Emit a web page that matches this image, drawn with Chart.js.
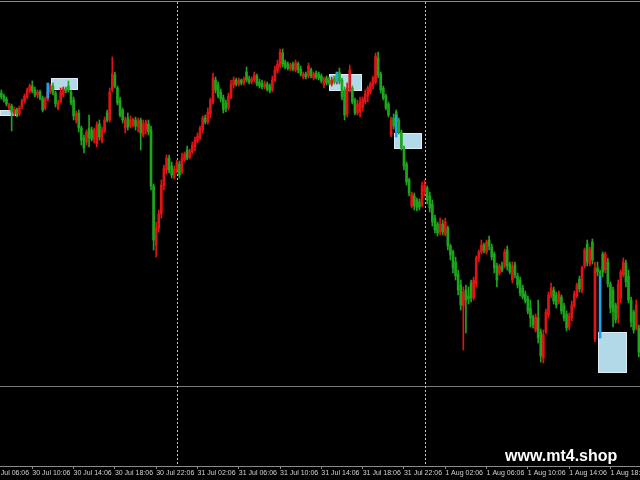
<!DOCTYPE html>
<html>
<head>
<meta charset="utf-8">
<title>chart</title>
<script src="https://cdn.jsdelivr.net/npm/chart.js@4.4.0/dist/chart.umd.min.js"></script>
<style>
  html, body { margin: 0; padding: 0; background: #000; }
  canvas { display: block; }
</style>
</head>
<body>
<canvas id="myChart" width="640" height="480"></canvas>
<script>
// M15 candles, bar 0 = 30 Jul 07:06
const opens = [
  12307,12304,12301,12292,12294,12287,12291,12286,12293,12299,
  12303,12309,12314,12310,12305,12308,12302,12292,12300,12308,
  12314,12307,12292,12298,12305,12311,12314,12308,12300,12280,
  12287,12272,12262,12258,12272,12270,12260,12256,12276,12259,
  12269,12287,12280,12310,12325,12312,12300,12290,12272,12282,
  12274,12275,12280,12273,12280,12265,12270,12276,12270,12214,
  12155,12172,12186,12215,12230,12242,12234,12223,12230,12236,
  12228,12240,12250,12243,12248,12253,12259,12262,12270,12282,
  12278,12286,12298,12320,12315,12308,12302,12297,12292,12303,
  12315,12320,12316,12320,12317,12328,12321,12318,12320,12324,
  12318,12317,12313,12316,12314,12310,12320,12329,12334,12347,
  12338,12336,12331,12336,12330,12336,12331,12323,12326,12324,
  12330,12322,12327,12326,12324,12315,12322,12320,12316,12321,
  12318,12328,12320,12310,12286,12310,12312,12300,12287,12288,
  12292,12298,12304,12308,12314,12318,12342,12326,12312,12304,
  12296,12265,12282,12288,12280,12268,12252,12236,12220,12194,
  12204,12200,12198,12195,12208,12212,12204,12196,12182,12176,
  12168,12176,12166,12172,12154,12148,12138,12126,12115,12094,
  12110,12104,12117,12102,12116,12141,12148,12155,12148,12160,
  12153,12146,12134,12127,12134,12134,12150,12136,12120,12135,
  12124,12120,12112,12106,12101,12092,12083,12070,12082,12068,
  12042,12068,12085,12104,12110,12105,12098,12103,12094,12086,
  12073,12082,12094,12104,12121,12110,12134,12156,12136,12158,
  12061,12132,12128,12146,12130,12138,12116,12110,12095,12082,
  12102,12125,12137,12124,12100,12088,12072,12072
];
const highs = [
  12310,12306,12303,12297,12296,12293,12292,12294,12301,12306,
  12312,12316,12319,12313,12310,12310,12304,12303,12310,12316,
  12317,12309,12300,12312,12313,12313,12319,12310,12303,12289,
  12290,12274,12265,12270,12285,12273,12272,12278,12280,12273,
  12283,12290,12312,12343,12328,12314,12303,12292,12283,12287,
  12284,12282,12283,12282,12282,12280,12280,12280,12274,12216,
  12178,12190,12220,12235,12245,12245,12238,12234,12240,12239,
  12247,12248,12254,12251,12258,12263,12267,12274,12284,12285,
  12292,12302,12327,12323,12318,12311,12305,12300,12307,12320,
  12323,12322,12322,12321,12323,12333,12324,12323,12328,12326,
  12321,12320,12319,12318,12316,12324,12334,12340,12351,12351,
  12340,12338,12337,12338,12340,12338,12334,12328,12328,12337,
  12332,12328,12329,12328,12326,12323,12324,12323,12323,12324,
  12326,12332,12322,12313,12317,12335,12314,12302,12300,12303,
  12303,12310,12314,12318,12324,12347,12348,12328,12314,12306,
  12298,12283,12286,12290,12282,12270,12254,12238,12222,12208,
  12207,12202,12201,12218,12220,12214,12208,12200,12185,12178,
  12182,12180,12182,12174,12156,12150,12143,12130,12120,12113,
  12115,12113,12120,12123,12144,12150,12160,12157,12160,12164,
  12156,12148,12137,12136,12138,12151,12154,12138,12138,12138,
  12127,12123,12115,12109,12104,12100,12085,12086,12100,12071,
  12070,12091,12108,12117,12113,12108,12109,12105,12097,12089,
  12087,12099,12109,12117,12124,12134,12152,12160,12153,12161,
  12138,12138,12130,12148,12148,12142,12118,12113,12097,12120,
  12130,12142,12140,12130,12103,12090,12100,12075
];
const lows = [
  12301,12298,12294,12290,12269,12284,12283,12284,12291,12297,
  12301,12307,12307,12303,12302,12300,12288,12290,12299,12306,
  12305,12293,12290,12297,12303,12307,12308,12295,12280,12277,
  12268,12255,12247,12255,12253,12259,12257,12253,12260,12257,
  12267,12278,12278,12308,12312,12295,12283,12277,12267,12270,
  12272,12273,12270,12268,12250,12263,12266,12265,12210,12150,
  12143,12168,12182,12210,12226,12227,12222,12221,12227,12222,
  12226,12238,12240,12241,12246,12249,12257,12260,12267,12276,
  12276,12282,12296,12307,12302,12298,12287,12288,12290,12301,
  12312,12314,12314,12315,12315,12318,12316,12316,12318,12314,
  12312,12311,12311,12309,12307,12308,12318,12327,12332,12333,
  12331,12330,12329,12329,12328,12327,12324,12321,12321,12322,
  12322,12320,12321,12320,12317,12312,12315,12315,12314,12316,
  12316,12316,12300,12280,12283,12308,12296,12285,12285,12283,
  12289,12296,12298,12306,12311,12316,12322,12307,12300,12290,
  12283,12263,12271,12276,12266,12250,12230,12215,12204,12192,
  12190,12189,12190,12193,12204,12196,12188,12174,12167,12164,
  12165,12165,12164,12150,12140,12127,12120,12105,12090,12050,
  12067,12096,12098,12100,12113,12138,12146,12147,12146,12150,
  12140,12127,12113,12125,12128,12132,12130,12126,12117,12122,
  12112,12104,12101,12097,12086,12073,12072,12068,12057,12038,
  12037,12066,12082,12102,12096,12092,12096,12086,12079,12069,
  12070,12079,12092,12102,12108,12107,12132,12134,12134,12136,
  12058,12124,12122,12123,12127,12113,12087,12073,12077,12077,
  12097,12123,12113,12097,12073,12067,12070,12043
];
const closes = [
  12303,12300,12296,12295,12288,12291,12286,12292,12299,12304,
  12310,12314,12309,12305,12308,12302,12290,12301,12308,12314,
  12307,12296,12298,12308,12311,12309,12310,12297,12284,12287,
  12272,12260,12252,12268,12262,12261,12270,12275,12263,12270,
  12280,12280,12308,12326,12314,12297,12285,12280,12280,12273,
  12280,12281,12274,12279,12267,12276,12278,12268,12214,12160,
  12172,12186,12215,12232,12242,12230,12225,12231,12237,12225,
  12242,12246,12242,12249,12255,12260,12264,12272,12282,12278,
  12288,12300,12322,12310,12304,12301,12290,12292,12304,12316,
  12320,12316,12320,12317,12321,12320,12318,12321,12325,12316,
  12314,12313,12316,12311,12309,12320,12330,12336,12348,12336,
  12333,12332,12335,12331,12337,12330,12326,12326,12323,12334,
  12324,12326,12323,12322,12319,12321,12317,12317,12320,12318,
  12324,12318,12303,12285,12312,12330,12298,12287,12296,12298,
  12301,12306,12312,12316,12322,12344,12325,12310,12302,12292,
  12285,12280,12274,12278,12268,12252,12234,12218,12207,12206,
  12194,12192,12193,12214,12215,12200,12192,12178,12170,12167,
  12176,12168,12178,12154,12145,12132,12124,12110,12095,12108,
  12100,12101,12102,12120,12142,12148,12155,12150,12158,12154,
  12143,12132,12120,12134,12130,12148,12134,12128,12134,12125,
  12115,12107,12103,12099,12089,12082,12075,12083,12062,12044,
  12065,12088,12105,12112,12099,12095,12107,12089,12082,12072,
  12084,12095,12106,12115,12111,12132,12150,12138,12151,12140,
  12132,12128,12125,12128,12146,12116,12092,12088,12080,12116,
  12128,12138,12118,12100,12078,12070,12095,12048
];

// time axis: bar index of each label, and the label text
const tickPositions = [-4, 12, 28, 44, 60, 76, 92, 108, 124, 140, 156, 172, 188, 204, 220, 236];
const tickLabels = [
  "30 Jul 06:06", "30 Jul 10:06", "30 Jul 14:06", "30 Jul 18:06", "30 Jul 22:06",
  "31 Jul 02:06", "31 Jul 06:06", "31 Jul 10:06", "31 Jul 14:06", "31 Jul 18:06", "31 Jul 22:06",
  "1 Aug 02:06", "1 Aug 06:06", "1 Aug 10:06", "1 Aug 14:06", "1 Aug 18:06"
];

// day separators (bar index)
const separators = [68, 164];

// blue signal bars
const signalBars = [18, 130, 153, 232];
const signalHigh = [12317, 12328, 12285, 12124];
const signalLow = [12302, 12318, 12263, 12062];

// light blue zones (bar index from/to, price top/bottom)
const boxFrom = [-0.52, 19.24, 126.96, 152.1, 231.2];
const boxTo = [6.46, 29.7, 139.7, 163.0, 242.4];
const boxTop = [12290, 12322, 12326, 12267, 12068];
const boxBottom = [12284, 12310, 12309, 12251, 12027];

const UP = '#e01414';     // bull candles are red on this chart
const DOWN = '#1ea51e';   // bear candles green
const SIGNAL = '#22a2e6';

function candleColor(i) {
  return closes[i] > opens[i] ? UP : DOWN;
}

const overlay = {
  id: 'overlay',
  beforeDatasetsDraw(chart) {
    const {ctx, chartArea, scales: {x, y}} = chart;
    ctx.save();

    // frame line on top and the sub-window border
    ctx.strokeStyle = '#8a8a8a';
    ctx.lineWidth = 1;
    ctx.beginPath();
    ctx.moveTo(0, 1.5);
    ctx.lineTo(chart.width, 1.5);
    ctx.stroke();
    ctx.strokeStyle = '#7a7a7a';
    ctx.beginPath();
    ctx.moveTo(0, chartArea.bottom - 79.5);
    ctx.lineTo(chart.width, chartArea.bottom - 79.5);
    ctx.stroke();

    // period separators
    ctx.strokeStyle = '#c4c4c4';
    ctx.setLineDash([2, 2]);
    separators.forEach(v => {
      const px = Math.round(x.getPixelForValue(v)) + 0.5;
      ctx.beginPath();
      ctx.moveTo(px, chartArea.top + 2);
      ctx.lineTo(px, chartArea.bottom);
      ctx.stroke();
    });
    ctx.setLineDash([]);

    // zones
    for (let i = 0; i < boxFrom.length; i++) {
      const x1 = Math.round(x.getPixelForValue(boxFrom[i]));
      const x2 = Math.round(x.getPixelForValue(boxTo[i]));
      const y1 = Math.round(y.getPixelForValue(boxTop[i]));
      const y2 = Math.round(y.getPixelForValue(boxBottom[i]));
      ctx.fillStyle = '#b2d9e8';
      ctx.fillRect(x1, y1, x2 - x1, y2 - y1);
      ctx.strokeStyle = '#dcecf2';
      ctx.strokeRect(x1 + 0.5, y1 + 0.5, x2 - x1 - 1, y2 - y1 - 1);
    }
    ctx.restore();
  },
  afterDraw(chart) {
    const ctx = chart.ctx;
    ctx.save();
    ctx.font = 'bold 16px "Liberation Sans", Arial, sans-serif';
    ctx.fillStyle = '#ffffff';
    ctx.textAlign = 'left';
    ctx.textBaseline = 'alphabetic';
    ctx.fillText('www.mt4.shop', 505, 461);
    ctx.restore();
  }
};

function cateChart(id) {
  const bodies = opens.map((o, i) => ({x: i, y: [o, closes[i]]}));
  const wicks = opens.map((o, i) => ({x: i, y: [lows[i], highs[i]]}));
  const signals = signalBars.map((b, i) => ({x: b, y: [signalLow[i], signalHigh[i]]}));

  const data = {
    datasets: [{
      label: 'signal',
      data: signals,
      backgroundColor: SIGNAL,
      barThickness: 2,
      grouped: false,
      order: 0
    }, {
      label: 'body',
      data: bodies,
      backgroundColor: c => candleColor(c.dataIndex),
      barThickness: 2,
      minBarLength: 1,
      grouped: false,
      order: 1
    }, {
      label: 'wick',
      data: wicks,
      backgroundColor: c => candleColor(c.dataIndex),
      barThickness: 1,
      grouped: false,
      order: 2
    }]
  };

  const config = {
    type: 'bar',
    data: data,
    options: {
      responsive: false,
      animation: false,
      devicePixelRatio: 1,
      layout: { padding: 0 },
      plugins: {
        legend: { display: false },
        tooltip: { enabled: false }
      },
      scales: {
        x: {
          type: 'linear',
          min: -0.515,
          max: 247.45,
          bounds: 'data',
          offset: false,
          grid: {
            display: true,
            offset: false,
            drawOnChartArea: false,
            drawTicks: true,
            tickLength: 3,
            color: '#8a8a8a'
          },
          border: { display: true, color: '#8a8a8a' },
          ticks: {
            autoSkip: false,
            maxRotation: 0,
            align: 'start',
            padding: 0,
            color: '#d2d2d2',
            font: { family: "'Liberation Sans Narrow', 'Liberation Sans', sans-serif", size: 7 },
            callback: (value, index) => tickLabels[index]
          },
          afterBuildTicks: scale => {
            scale.ticks = tickPositions.map(v => ({value: v}));
          },
          afterFit: scale => {
            scale.height = 14;
            scale.paddingLeft = 0;
            scale.paddingRight = 0;
          }
        },
        y: {
          display: false,
          min: 11934,
          max: 12400,
          bounds: 'data',
          beginAtZero: false
        }
      }
    },
    plugins: [overlay]
  };

  let ctx = document.getElementById(id).getContext("2d");
  new Chart(ctx, config);
}

cateChart("myChart");
</script>
</body>
</html>
